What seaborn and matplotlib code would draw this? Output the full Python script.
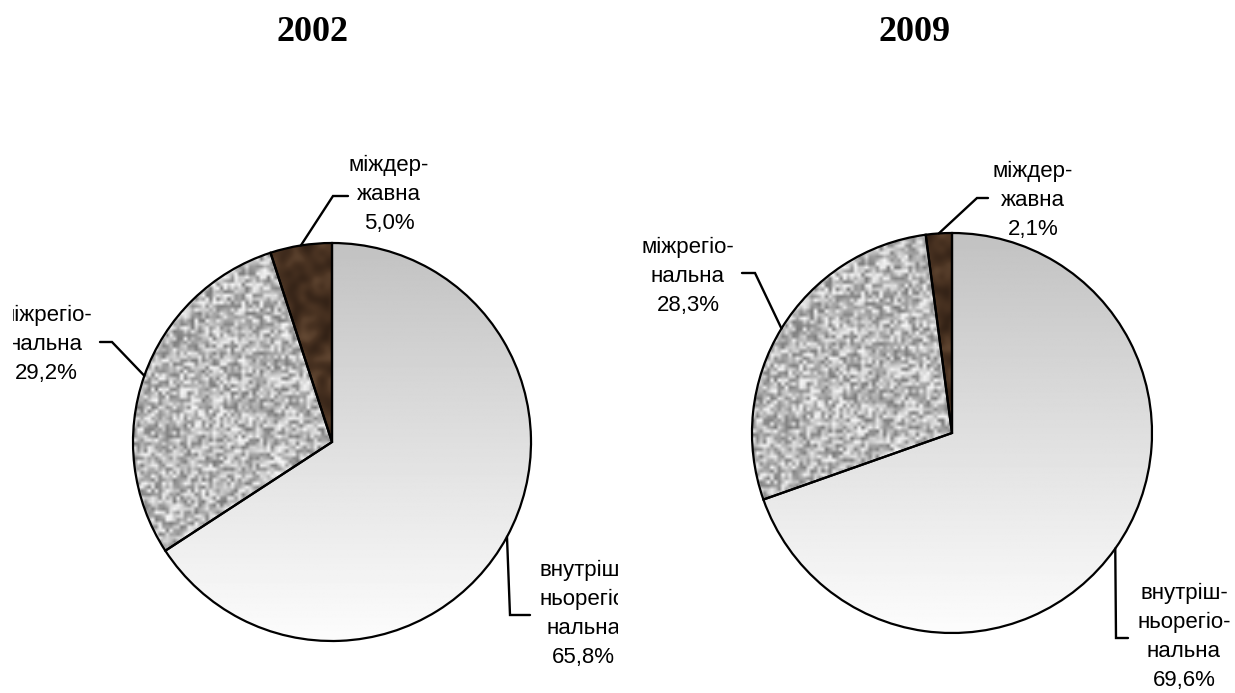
import numpy as np
import matplotlib
matplotlib.use("Agg")
import matplotlib.pyplot as plt
import seaborn as sns

# data
years = ["2002", "2009"]
categories = ["внутріш-\nньорегіо\nнальна", "міжрегіо-\nнальна", "міждер-\nжавна"]
categories_2009 = ["внутріш-\nньорегіо-\nнальна", "міжрегіо-\nнальна", "міждер-\nжавна"]
share_2002 = [65.8, 29.2, 5.0]
share_2009 = [69.6, 28.3, 2.1]

sns.set_theme(style="white")
plt.rcParams['font.family'] = ['Liberation Sans', 'DejaVu Sans']
plt.rcParams['text.color'] = 'black'

W, H = 1235, 693
fig = plt.figure(figsize=(W / 100, H / 100), dpi=100)
fig.patch.set_facecolor('white')


def fy(y):
    # picture rows -> axes y (pixel units, origin bottom)
    return H - y


def noise(nx, ny, seed):
    i, j = np.meshgrid(np.arange(nx), np.arange(ny))
    v = np.sin(i * 12.9898 + j * 78.233 + seed) * 43758.5453
    return v - np.floor(v)


def texture(ax, wedge, kind, cx, cy, r):
    ext = (cx - r, cx + r, cy - r, cy + r)
    if kind == 'gradient':
        g = np.linspace(0.76, 0.99, 256)[:, None] * np.ones((1, 4))
        img = ax.imshow(g, extent=ext, origin='upper', cmap='gray', vmin=0, vmax=1,
                        interpolation='bilinear', aspect='auto', zorder=1)
    elif kind == 'granite':
        n = noise(110, 110, 1.0)
        g = np.clip(0.72 + (n - 0.5) * 0.5, 0, 1)
        img = ax.imshow(g, extent=ext, cmap='gray', vmin=0, vmax=1,
                        interpolation='bilinear', aspect='auto', zorder=1)
    else:
        n = noise(60, 60, 7.0)
        cmap = matplotlib.colors.LinearSegmentedColormap.from_list(
            'wood', ['#2b1c12', '#4a3322', '#7a5c43'])
        img = ax.imshow(n, extent=ext, cmap=cmap, vmin=0, vmax=1.15,
                        interpolation='bicubic', aspect='auto', zorder=1)
    img.set_clip_path(wedge)


def draw(ax, values, labels, year, cx, cy, r, title_x, label_pos, leaders, x0, x1):
    wedges, _ = ax.pie(values, startangle=90, counterclock=False,
                       center=(cx, fy(cy)), radius=r,
                       colors=['none'] * 3,
                       wedgeprops=dict(edgecolor='black', linewidth=1.6, zorder=3))
    for w, kind in zip(wedges, ['gradient', 'granite', 'wood']):
        texture(ax, w, kind, cx, fy(cy), r)
    ax.set_xlim(x0, x1)
    ax.set_ylim(0, H)
    ax.set_aspect('auto')
    ax.axis('off')

    ax.text(title_x, fy(41), year, ha='center', va='baseline', color='black',
            fontsize=26, fontweight='bold', family=['Liberation Serif', 'DejaVu Serif'])

    for w, v, lab, (tx, ty), elbow in zip(wedges, values, labels, label_pos, leaders):
        mid = np.deg2rad((w.theta1 + w.theta2) / 2)
        ax_ = cx + r * np.cos(mid)
        ay_ = fy(cy) + r * np.sin(mid)
        xs = [ax_] + [p[0] for p in elbow]
        ys = [ay_] + [fy(p[1]) for p in elbow]
        ax.plot(xs, ys, color='black', linewidth=1.7, zorder=4, solid_joinstyle='miter')
        txt = lab + "\n" + f"{v:.1f}%".replace('.', ',')
        ax.text(tx, fy(ty), txt, ha='center', va='center', multialignment='center',
                fontsize=16, linespacing=1.5, color='black', clip_on=True)


ax1 = fig.add_axes([13 / W, 0, (618 - 13) / W, 1])
draw(ax1, share_2002, categories, years[0], 332, 442, 199, 313,
     [(583, 614), (46, 344), (389, 194)],
     [[(510, 615), (530, 615)], [(112, 342), (100, 342)], [(333, 196), (348, 196)]],
     13, 618)

ax2 = fig.add_axes([618 / W, 0, (W - 618) / W, 1])
draw(ax2, share_2009, categories_2009, years[1], 952, 433, 200, 915,
     [(1184, 637), (688, 276), (1033, 200)],
     [[(1116, 638), (1128, 638)], [(755, 273), (742, 273)], [(977, 198), (988, 198)]],
     618, W)

fig.savefig("out.png", dpi=100, facecolor='white')
